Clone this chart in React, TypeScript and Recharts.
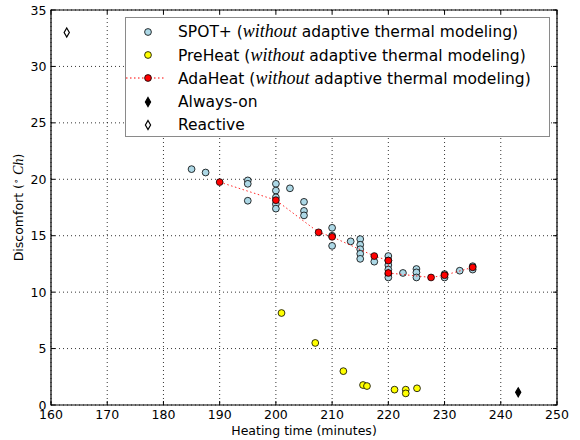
import {
  ScatterChart,
  Scatter,
  XAxis,
  YAxis,
  CartesianGrid,
  ReferenceArea,
  Legend,
} from 'recharts';

// SPOT+ (without adaptive thermal modeling)
const spotX = [185, 187.5, 195, 195, 195, 200, 200, 200, 200, 200, 202.5, 205, 205, 205, 210, 210, 210, 213.3, 215, 215, 215, 215, 215, 217.5, 220, 220, 220, 220, 220, 220, 222.6, 225, 225, 225, 230, 230, 232.7, 235, 235];
const spotY = [20.9, 20.6, 19.9, 19.6, 18.1, 19.6, 19.0, 18.4, 17.8, 17.4, 19.2, 18.0, 17.2, 16.8, 15.7, 15.0, 14.1, 14.5, 14.7, 14.2, 13.8, 13.4, 12.95, 12.7, 13.2, 12.8, 12.4, 12.0, 11.6, 11.3, 11.7, 12.05, 11.75, 11.3, 11.6, 11.3, 11.9, 12.3, 12.0];

// PreHeat (without adaptive thermal modeling)
const preX = [201, 207, 212, 215.5, 216.2, 221.1, 223.1, 223.1, 225.1];
const preY = [8.15, 5.5, 3.0, 1.77, 1.68, 1.36, 1.36, 1.03, 1.48];

// AdaHeat (without adaptive thermal modeling), joined by a dotted line
const adaX = [190, 200, 207.6, 210, 217.5, 220, 220, 227.6, 230, 235];
const adaY = [19.75, 18.15, 15.3, 14.9, 13.2, 12.8, 11.7, 11.3, 11.5, 12.2];

const alwaysX = [243.1];
const alwaysY = [1.12];
const reactiveX = [162.8];
const reactiveY = [33.0];

const xTicks = [160, 170, 180, 190, 200, 210, 220, 230, 240, 250];
const yTicks = [0, 5, 10, 15, 20, 25, 30, 35];

const zip = (xs: number[], ys: number[]) => xs.map((x, i) => ({ x, y: ys[i] }));
const spotData = zip(spotX, spotY);
const preData = zip(preX, preY);
const adaData = zip(adaX, adaY);
const alwaysData = zip(alwaysX, alwaysY);
const reactiveData = zip(reactiveX, reactiveY);

const FONT = "'DejaVu Sans', sans-serif";
const MATH = "'Liberation Serif', 'DejaVu Serif', serif";
const W = 580;
const H = 440;
const M = { top: 10, right: 23, left: 0, bottom: 0 };
const Y_W = 51;
const X_H = 35;
const PLOT_TOP = M.top;
const PLOT_BOTTOM = H - X_H;
const PLOT_LEFT = Y_W;
const PLOT_RIGHT = W - M.right;
const TICK = 4;

const BLUE = '#add8e6';
const YELLOW = '#ffff00';
const RED = '#ff0000';

const dot = (fill: string) => (p: any) => (
  <circle cx={p.cx} cy={p.cy} r={3.4} fill={fill} stroke="#000" strokeWidth={0.8} />
);

const diamond = (fill: string) => (p: any) => (
  <polygon
    points={`${p.cx},${p.cy - 4.5} ${p.cx + 2.6},${p.cy} ${p.cx},${p.cy + 4.5} ${p.cx - 2.6},${p.cy}`}
    fill={fill}
    stroke="#000"
    strokeWidth={1.2}
  />
);

function XTick(props: any) {
  const cx = props.payload?.coordinate ?? props.x;
  return (
    <g>
      <line x1={cx} x2={cx} y1={PLOT_BOTTOM} y2={PLOT_BOTTOM - TICK} stroke="#000" />
      <line x1={cx} x2={cx} y1={PLOT_TOP} y2={PLOT_TOP + TICK} stroke="#000" />
      <text x={cx} y={PLOT_BOTTOM + 14} textAnchor="middle" fontFamily={FONT} fontSize={12.5} fill="#000">
        {props.payload.value}
      </text>
    </g>
  );
}

function YTick(props: any) {
  const cy = props.payload?.coordinate ?? props.y;
  return (
    <g>
      <line x1={PLOT_LEFT} x2={PLOT_LEFT + TICK} y1={cy} y2={cy} stroke="#000" />
      <line x1={PLOT_RIGHT} x2={PLOT_RIGHT - TICK} y1={cy} y2={cy} stroke="#000" />
      <text x={PLOT_LEFT - 4.5} y={cy + 4.5} textAnchor="end" fontFamily={FONT} fontSize={12.5} fill="#000">
        {props.payload.value}
      </text>
    </g>
  );
}

const legendItems = [
  { name: 'SPOT+', kind: 'dot', color: BLUE, math: true },
  { name: 'PreHeat', kind: 'dot', color: YELLOW, math: true },
  { name: 'AdaHeat', kind: 'line', color: RED, math: true },
  { name: 'Always-on', kind: 'diamond', color: '#000', math: false },
  { name: 'Reactive', kind: 'diamond', color: '#fff', math: false },
];

function LegendMarker({ kind, color }: { kind: string; color: string }) {
  return (
    <svg width={44} height={14} style={{ display: 'block' }}>
      {kind === 'line' && (
        <line x1={0} x2={40} y1={7} y2={7} stroke={RED} strokeWidth={1} strokeDasharray="1.5 2.5" />
      )}
      {kind === 'diamond' ? (
        <polygon points="22,2.5 24.6,7 22,11.5 19.4,7" fill={color} stroke="#000" strokeWidth={1.2} />
      ) : (
        <circle cx={22} cy={7} r={3.4} fill={color} stroke="#000" strokeWidth={0.8} />
      )}
    </svg>
  );
}

function LegendBox() {
  return (
    <div
      style={{
        boxSizing: 'border-box',
        width: 425,
        height: 120,
        border: '1px solid #8a8a8a',
        background: '#fff',
        padding: '2px 0 0 0',
        fontFamily: FONT,
        fontSize: 15.5,
        color: '#000',
      }}
    >
      {legendItems.map((it) => (
        <div key={it.name} style={{ display: 'flex', alignItems: 'center', height: 23.4 }}>
          <div style={{ width: 52, paddingLeft: 0 }}>
            <LegendMarker kind={it.kind} color={it.color} />
          </div>
          <span style={{ whiteSpace: 'nowrap' }}>
            {it.name}
            {it.math && (
              <>
                {' ('}
                <span style={{ fontFamily: MATH, fontStyle: 'italic', fontSize: 18 }}>without</span>
                {' adaptive thermal modeling)'}
              </>
            )}
          </span>
        </div>
      ))}
    </div>
  );
}

const yLabel = (p: any) => {
  const vb = p.viewBox ?? { y: PLOT_TOP, height: PLOT_BOTTOM - PLOT_TOP };
  const cy = vb.y + vb.height / 2;
  return (
    <text
      x={0}
      y={0}
      transform={`translate(23, ${cy}) rotate(-90)`}
      textAnchor="middle"
      fontFamily={FONT}
      fontSize={12.5}
      fill="#000"
    >
      Discomfort (
      <tspan fontSize={9} dy={-4}>∘</tspan>
      <tspan dy={4} fontFamily={MATH} fontStyle="italic" fontSize={14}> Ch</tspan>)
    </text>
  );
};

const xLabel = (p: any) => {
  const vb = p.viewBox ?? { x: PLOT_LEFT, width: PLOT_RIGHT - PLOT_LEFT };
  return (
    <text x={vb.x + vb.width / 2} y={434.5} textAnchor="middle" fontFamily={FONT} fontSize={12.5} fill="#000">
      Heating time (minutes)
    </text>
  );
};

export default function App() {
  return (
    <div style={{ position: 'absolute', left: 0, top: 0, width: W, height: H, background: '#fff' }}>
      <ScatterChart width={W} height={H} margin={M}>
        <CartesianGrid stroke="#000" strokeWidth={0.8} strokeDasharray="1 3" />
        <XAxis
          dataKey="x"
          type="number"
          domain={[160, 250]}
          ticks={xTicks}
          allowDataOverflow
          height={X_H}
          axisLine={false}
          tickLine={false}
          tick={XTick}
          label={xLabel}
        />
        <YAxis
          dataKey="y"
          type="number"
          domain={[0, 35]}
          ticks={yTicks}
          allowDataOverflow
          width={Y_W}
          axisLine={false}
          tickLine={false}
          tick={YTick}
          label={yLabel}
        />
        <Scatter data={spotData} shape={dot(BLUE)} isAnimationActive={false} />
        <Scatter data={preData} shape={dot(YELLOW)} isAnimationActive={false} />
        <Scatter
          data={adaData}
          shape={dot(RED)}
          line={{ stroke: RED, strokeWidth: 1, strokeDasharray: '1.5 2.5', strokeOpacity: 0.85 }}
          isAnimationActive={false}
        />
        <Scatter data={alwaysData} shape={diamond('#000')} isAnimationActive={false} />
        <Scatter data={reactiveData} shape={diamond('#fff')} isAnimationActive={false} />
        <ReferenceArea x1={160} x2={250} y1={0} y2={35} fill="none" stroke="#000" strokeWidth={1.2} ifOverflow="visible" />
        <Legend
          layout="vertical"
          align="center"
          verticalAlign="middle"
          content={() => <LegendBox />}
          wrapperStyle={{ position: 'absolute', left: 125, top: 17, width: 425, height: 120 }}
        />
      </ScatterChart>
    </div>
  );
}
